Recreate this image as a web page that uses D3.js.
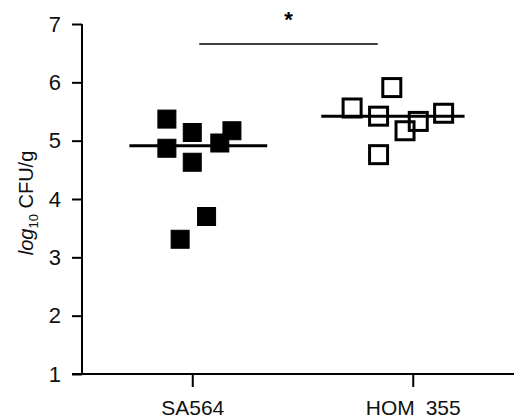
<!DOCTYPE html>
<html>
<head>
<meta charset="utf-8">
<script src="https://cdn.jsdelivr.net/npm/d3@7"></script>
<style>
  body { margin: 0; background: #fff; }
  svg { display: block; font-family: "Liberation Sans", Arial, sans-serif; }
</style>
</head>
<body>
<div id="chart"></div>
<script>
// groups and values
var groups = ["SA564", "HOM 355"];
var yTicks = [1, 2, 3, 4, 5, 6, 7];
var sa564 = [5.37, 5.14, 5.17, 4.87, 4.96, 4.63, 3.70, 3.31];
var sa564Jitter = [-0.23, 0.0, 0.36, -0.23, 0.25, 0.0, 0.13, -0.11];
var hom355 = [5.91, 5.56, 5.42, 5.17, 5.33, 5.47, 4.76];
var hom355Jitter = [-0.19, -0.55, -0.31, -0.07, 0.05, 0.28, -0.31];
// horizontal extent of the median bars, as fraction of half a step
var medianSpan = [[-0.57, 0.68], [-0.83, 0.47]];
var sigPair = ["SA564", "HOM 355"];

var width = 514, height = 419;
var svg = d3.select('#chart').append('svg')
    .attr('width', width)
    .attr('height', height);

var x = d3.scalePoint().domain(groups).range([82, 523]).padding(0.5);
var half = x.step() / 2;
var jitter = d3.scaleLinear().domain([-1, 1]).range([-half, half]);
var y = d3.scaleLinear().domain([1, 7]).range([374, 24]);

var data = [];
sa564.forEach(function(v, i) { data.push({group: "SA564", value: v, j: sa564Jitter[i]}); });
hom355.forEach(function(v, i) { data.push({group: "HOM 355", value: v, j: hom355Jitter[i]}); });

// y axis
var yAxis = svg.append('g')
    .attr('transform', 'translate(82,0)')
    .call(d3.axisLeft(y).tickValues(yTicks).tickFormat(d3.format('d')).tickSize(10).tickPadding(11));
yAxis.select('.domain').attr('stroke-width', 2).attr('d', 'M0,' + y(7) + 'V' + y(1));
yAxis.selectAll('.tick line').attr('stroke-width', 2);
yAxis.selectAll('.tick text').attr('font-size', 22).attr('fill', '#111');

// x axis
var xAxis = svg.append('g')
    .attr('transform', 'translate(0,374)')
    .call(d3.axisBottom(x).tickSize(13).tickPadding(13));
xAxis.select('.domain').attr('stroke-width', 2).attr('d', 'M72,0H' + width);
xAxis.selectAll('.tick line').attr('stroke-width', 2);
xAxis.selectAll('.tick text').attr('font-size', 21).attr('fill', '#111')
    .attr('dy', '0.71em')
    .attr('word-spacing', 5);

// y label: log10 CFU/g
var yl = svg.append('text')
    .attr('transform', 'translate(33,203) rotate(-90)')
    .attr('text-anchor', 'middle')
    .attr('font-size', 20)
    .attr('fill', '#111');
yl.append('tspan').attr('font-style', 'italic').text('log');
yl.append('tspan').attr('font-size', 13).attr('dy', 5).text('10');
yl.append('tspan').attr('dy', -5).text(' CFU/g');

// median bars
groups.forEach(function(g, i) {
    var vals = data.filter(function(d) { return d.group === g; }).map(function(d) { return d.value; });
    var m = d3.median(vals);
    svg.append('line')
        .attr('x1', x(g) + jitter(medianSpan[i][0]))
        .attr('x2', x(g) + jitter(medianSpan[i][1]))
        .attr('y1', y(m)).attr('y2', y(m))
        .attr('stroke', '#000')
        .attr('stroke-width', 3);
});

// points
var s = 18;
svg.selectAll('rect.pt').data(data).enter().append('rect')
    .attr('class', 'pt')
    .attr('x', function(d) { return x(d.group) + jitter(d.j) - s / 2; })
    .attr('y', function(d) { return y(d.value) - s / 2; })
    .attr('width', s).attr('height', s)
    .attr('fill', function(d) { return d.group === "SA564" ? '#000' : 'none'; })
    .attr('stroke', '#000')
    .attr('stroke-width', function(d) { return d.group === "SA564" ? 1 : 3; });

// significance bar
svg.append('line')
    .attr('x1', x(sigPair[0]) + 7).attr('x2', x(sigPair[1]) - 35)
    .attr('y1', 44).attr('y2', 44)
    .attr('stroke', '#000').attr('stroke-width', 1.5);
svg.append('text')
    .attr('x', (x(sigPair[0]) + 7 + x(sigPair[1]) - 35) / 2)
    .attr('y', 27)
    .attr('text-anchor', 'middle')
    .attr('font-size', 22)
    .attr('font-weight', 'bold')
    .text('*');
</script>
</body>
</html>
